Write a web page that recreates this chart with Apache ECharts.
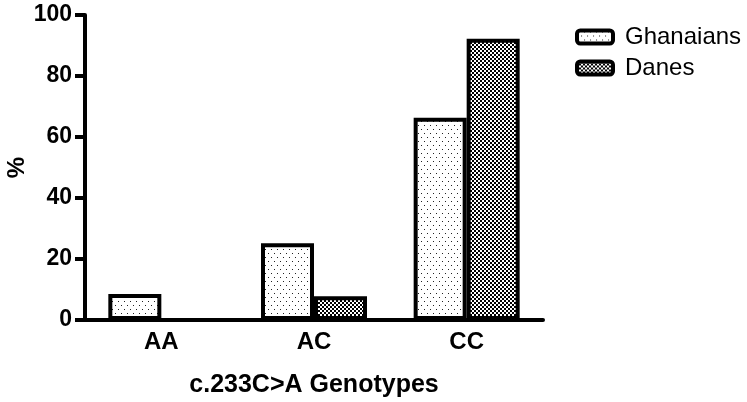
<!DOCTYPE html>
<html>
<head>
<meta charset="utf-8">
<script src="https://cdn.jsdelivr.net/npm/echarts@6/dist/echarts.min.js"></script>
<style>
  html, body { margin: 0; padding: 0; background: #fff; }
  #chart { width: 747px; height: 402px; }
</style>
</head>
<body>
<div id="chart"></div>
<script>
const categories = ['AA', 'AC', 'CC']
const ghanaians = [8.5, 25.2, 66.3]
const danes = [0, 7.8, 92.2]
const yTicks = [0, 20, 40, 60, 80, 100]

// little canvas tiles for the hatch fills
function dotTile () {
  const c = document.createElement('canvas')
  c.width = 6; c.height = 8
  const ctx = c.getContext('2d')
  ctx.fillStyle = '#fff'
  ctx.fillRect(0, 0, 6, 8)
  ctx.fillStyle = '#222'
  ctx.fillRect(1, 1, 1, 1)
  ctx.fillRect(4, 5, 1, 1)
  return c
}
function checkTile () {
  const c = document.createElement('canvas')
  c.width = 4; c.height = 4
  const ctx = c.getContext('2d')
  ctx.fillStyle = '#fff'
  ctx.fillRect(0, 0, 4, 4)
  ctx.fillStyle = '#000'
  ctx.fillRect(0, 0, 2, 2)
  ctx.fillRect(2, 2, 2, 2)
  return c
}

const myChart = echarts.init(document.getElementById('chart'))
const font = 'Liberation Sans, Arial, sans-serif'

myChart.setOption({
  animation: false,
  grid: { left: 85, right: 204, top: 15, bottom: 82, outerBoundsMode: 'none', containLabel: false },
  legend: {
    orient: 'vertical',
    left: 570,
    top: 20,
    itemWidth: 36,
    itemHeight: 13,
    itemGap: 7,
    itemStyle: { borderWidth: 4, borderColor: '#000' },
    textStyle: { fontFamily: font, fontSize: 24, color: '#000', padding: [0, 0, 0, 7] },
    data: ['Ghanaians', 'Danes']
  },
  xAxis: {
    type: 'category',
    data: categories,
    name: 'c.233C>A Genotypes',
    nameLocation: 'middle',
    nameGap: 53,
    nameTextStyle: { fontFamily: font, fontSize: 25, fontWeight: 'bold', color: '#000' },
    axisLine: { lineStyle: { color: '#000', width: 4 } },
    axisTick: { alignWithLabel: true, length: 9, lineStyle: { color: '#000', width: 4 } },
    axisLabel: { fontFamily: font, fontSize: 24, fontWeight: 'bold', color: '#000', margin: 10 }
  },
  yAxis: {
    type: 'value',
    min: yTicks[0],
    max: yTicks[yTicks.length - 1],
    interval: 20,
    name: '%',
    nameLocation: 'middle',
    nameGap: 56,
    nameMoveOverlap: false,
    nameRotate: 90,
    nameTextStyle: { fontFamily: font, fontSize: 24, fontWeight: 'bold', color: '#000' },
    splitLine: { show: false },
    axisLine: { show: true, lineStyle: { color: '#000', width: 4 } },
    axisTick: { show: true, length: 10, lineStyle: { color: '#000', width: 4 } },
    axisLabel: { fontFamily: font, fontSize: 23, fontWeight: 'bold', color: '#000', margin: 13 }
  },
  series: [
    {
      name: 'Ghanaians',
      type: 'bar',
      data: ghanaians,
      barWidth: 53,
      barGap: '0%',
      itemStyle: {
        color: { image: dotTile(), repeat: 'repeat' },
        borderColor: '#000',
        borderWidth: 4
      }
    },
    {
      name: 'Danes',
      type: 'bar',
      data: danes,
      barWidth: 53,
      barGap: '0%',
      itemStyle: {
        color: { image: checkTile(), repeat: 'repeat' },
        borderColor: '#000',
        borderWidth: 4
      }
    }
  ]
})
</script>
</body>
</html>
